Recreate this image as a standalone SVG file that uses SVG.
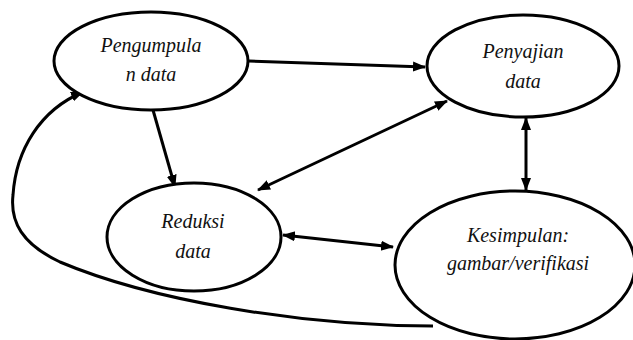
<svg xmlns="http://www.w3.org/2000/svg" width="633" height="340" viewBox="0 0 633 340">
<style>
.node{fill:#fff;stroke:#000;stroke-width:3}
.lbl{fill:#111;text-anchor:middle;font-family:'Liberation Serif','Times New Roman',serif;font-style:italic;font-size:20px}
.edge{fill:none;stroke:#000;stroke-width:3}
</style>
<defs>
<marker id="ah" markerUnits="userSpaceOnUse" markerWidth="14" markerHeight="12" refX="12" refY="5" orient="auto-start-reverse" viewBox="0 0 14 10">
<path d="M0,0 L13,5 L0,10 Z" fill="#000"/>
</marker>
</defs>
<rect width="633" height="340" fill="#fff"/>
<g id="connectors">
<path class="edge" d="M249,61 L425,67" marker-end="url(#ah)"/>
<path class="edge" d="M153,110 L175,187" marker-end="url(#ah)"/>
<path class="edge" d="M258,190 L447,101" marker-start="url(#ah)" marker-end="url(#ah)"/>
<path class="edge" d="M526,118 L526,190" marker-start="url(#ah)" marker-end="url(#ah)"/>
<path class="edge" d="M283,235 L393,247" marker-start="url(#ah)" marker-end="url(#ah)"/>
<path class="edge" d="M433,326 C300,326 150,300 60,262 C22,244 10,222 13,195 C16,150 40,110 83,92" marker-end="url(#ah)"/>
</g>
<g id="kesimpulan">
<ellipse class="node" cx="515" cy="265" rx="120" ry="74"/>
<text class="lbl" x="518" y="242">Kesimpulan:</text>
<text class="lbl" x="518" y="270">gambar/verifikasi</text>
</g>
<g id="pengumpulan">
<ellipse class="node" cx="151" cy="61" rx="97" ry="49"/>
<text class="lbl" x="151" y="52">Pengumpula</text>
<text class="lbl" x="151" y="81">n data</text>
</g>
<g id="penyajian">
<ellipse class="node" cx="523" cy="66" rx="96" ry="51"/>
<text class="lbl" x="523" y="58">Penyajian</text>
<text class="lbl" x="523" y="88">data</text>
</g>
<g id="reduksi">
<ellipse class="node" cx="194" cy="237" rx="87" ry="54"/>
<text class="lbl" x="193" y="228">Reduksi</text>
<text class="lbl" x="193" y="258">data</text>
</g>
</svg>
